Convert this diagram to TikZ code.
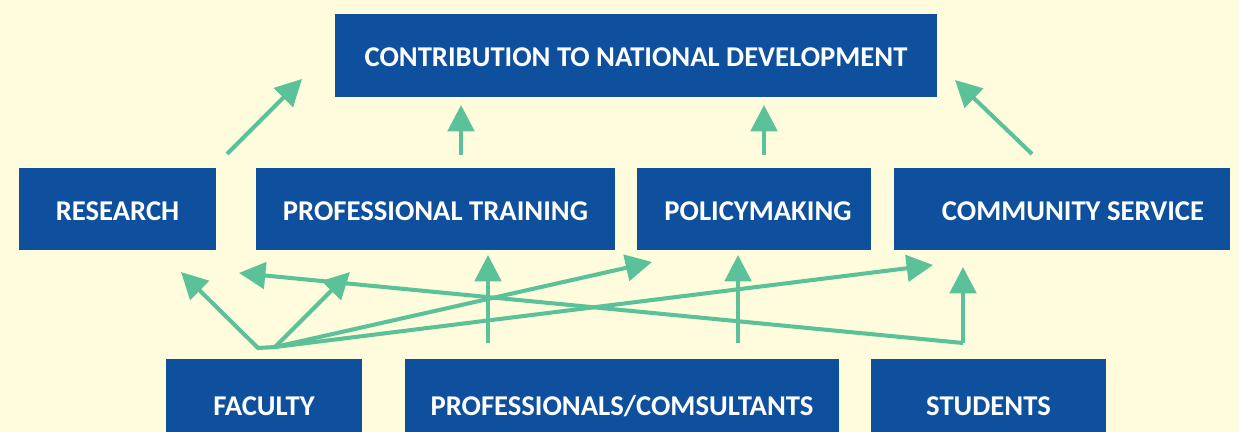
\documentclass[tikz,border=0pt]{standalone}
\usepackage{fontspec}
\setmainfont{Carlito}
\usetikzlibrary{arrows.meta}
\definecolor{bgc}{HTML}{FEFCDC}
\definecolor{boxc}{HTML}{0F509E}
\definecolor{arrc}{HTML}{5BC198}
\begin{document}
\begin{tikzpicture}[x=0.02cm,y=-0.02cm,
  box/.style={fill=boxc,text=white,font=\fontsize{16.3}{19}\selectfont\bfseries,inner sep=0pt,text height=13pt,text depth=0pt},
  conn/.style={draw=arrc,line width=2.3pt,-{Triangle[length=15pt,width=15pt]}},
  plain/.style={draw=arrc,line width=2.3pt,line cap=round}]
\useasboundingbox (0,0) rectangle (1239,432);
\clip (0,0) rectangle (1239,432);
\fill[bgc] (0,0) rectangle (1239,432);
% boxes
\node[box,minimum width=602*0.02cm,minimum height=83*0.02cm] (top) at (636,55.5) {CONTRIBUTION TO NATIONAL DEVELOPMENT};
\node[box,minimum width=197*0.02cm,minimum height=82*0.02cm] (res) at (117.5,209) {RESEARCH};
\node[box,minimum width=359*0.02cm,minimum height=82*0.02cm] (pt) at (435.5,209) {PROFESSIONAL TRAINING};
\node[box,minimum width=234*0.02cm,minimum height=82*0.02cm] (pol) at (754,209) {\hspace*{0.16cm}POLICYMAKING};
\node[box,minimum width=336*0.02cm,minimum height=82*0.02cm] (cs) at (1062,209) {\hspace*{0.44cm}COMMUNITY SERVICE};
\node[box,minimum width=196*0.02cm,minimum height=90*0.02cm] (fac) at (264,404) {FACULTY};
\node[box,minimum width=434*0.02cm,minimum height=90*0.02cm] (prof) at (622,404) {PROFESSIONALS/COMSULTANTS};
\node[box,minimum width=235*0.02cm,minimum height=90*0.02cm] (stu) at (988.5,404) {STUDENTS};
% coordinates
\coordinate (r1) at (227,154); \coordinate (t1) at (302,79);
\coordinate (r2) at (461,155); \coordinate (t2) at (461,105);
\coordinate (r3) at (764,155); \coordinate (t3) at (764,105);
\coordinate (r4) at (1032,154); \coordinate (t4) at (955,80);
\coordinate (fa) at (258,348); \coordinate (fb) at (275,347);
\coordinate (s0) at (963,343);
\coordinate (p1) at (488,343); \coordinate (p2) at (738,343);
\coordinate (tr) at (181,272); \coordinate (tpt) at (350,272);
\coordinate (tpol) at (652,262); \coordinate (tcs) at (933,265);
\coordinate (tsr) at (239,273); \coordinate (tsc) at (963,267);
\coordinate (tp1) at (488,255); \coordinate (tp2) at (738,255);
% top arrows
\draw[conn] (r1) -- (t1);
\draw[conn] (r2) -- (t2);
\draw[conn] (r3) -- (t3);
\draw[conn] (r4) -- (t4);
% faculty
\draw[plain] (fa) -- (fb);
\draw[conn] (fa) -- (tr);
\draw[conn] (fb) -- (tpt);
\draw[conn] (fb) -- (tpol);
\draw[conn] (fb) -- (tcs);
% professionals
\draw[conn] (p1) -- (tp1);
\draw[conn] (p2) -- (tp2);
% students
\draw[conn] (s0) -- (tsr);
\draw[conn] (s0) -- (tsc);
\end{tikzpicture}
\end{document}
